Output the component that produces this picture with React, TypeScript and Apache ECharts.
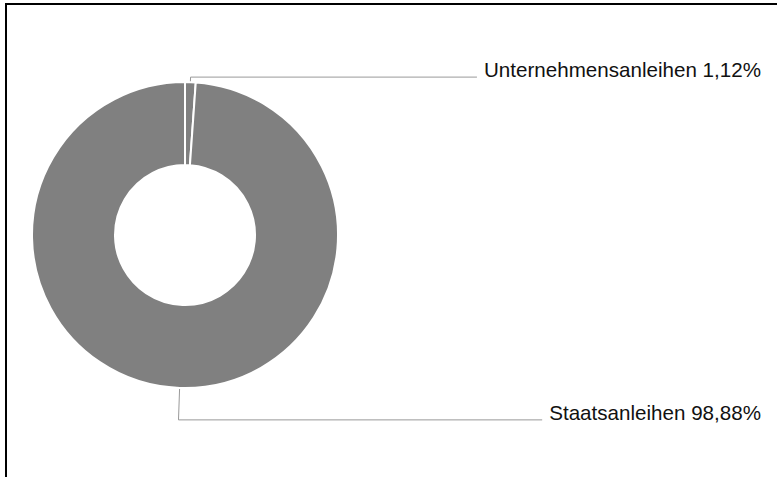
import React, { useEffect, useRef } from "react";
import * as echarts from "echarts";

const categories = ["Unternehmensanleihen", "Staatsanleihen"];
const shares = [1.12, 98.88];
const firstLineLengths = [5, 32];

const EDGE_DISTANCE = 36;
const LABEL_GAP = 7;

export default function App() {
  const ref = useRef<HTMLDivElement>(null);
  useEffect(() => {
    if (!ref.current) return;
    const chart = echarts.init(ref.current, undefined, { renderer: "svg" });
    const data = categories.map((name, i) => ({
      name,
      value: shares[i],
      labelLine: { length: firstLineLengths[i] },
    }));
    chart.setOption({
      animation: false,
      backgroundColor: "#fff",
      series: [
        {
          type: "pie",
          center: [178, 230],
          radius: [70, 153],
          startAngle: 90,
          clockwise: true,
          avoidLabelOverlap: false,
          itemStyle: { color: "#808080", borderColor: "#fff", borderWidth: 2 },
          label: {
            show: true,
            formatter: (p: any) =>
              p.name + " " + p.value.toFixed(2).replace(".", ",") + "%",
            fontFamily: "Liberation Sans, Arial, sans-serif",
            fontSize: 20.6,
            color: "#111",
            overflow: "none",
          },
          labelLine: {
            show: true,
            length2: 20,
            minTurnAngle: 0,
            lineStyle: { color: "#999", width: 1 },
          },
          labelLayout: (params: any) => {
            const pts = params.labelLinePoints;
            if (!pts) return {};
            const right = chart.getWidth() - EDGE_DISTANCE;
            const textW = params.labelRect.width;
            const p0 = pts[0];
            const p1 = pts[1];
            const endX = right - textW - LABEL_GAP;
            return {
              x: right,
              y: p1[1] + 3,
              align: "right",
              verticalAlign: "bottom",
              labelLinePoints: [
                [p0[0], p0[1]],
                [p1[0], p1[1]],
                [endX, p1[1]],
              ],
            };
          },
          emphasis: { disabled: true },
          data,
        },
      ],
    });
    return () => chart.dispose();
  }, []);
  return (
    <div
      style={{
        position: "fixed",
        left: 5,
        top: 3,
        width: 790,
        height: 490,
        border: "2px solid #000",
        background: "#fff",
      }}
    >
      <div ref={ref} style={{ width: 790, height: 490 }} />
    </div>
  );
}
